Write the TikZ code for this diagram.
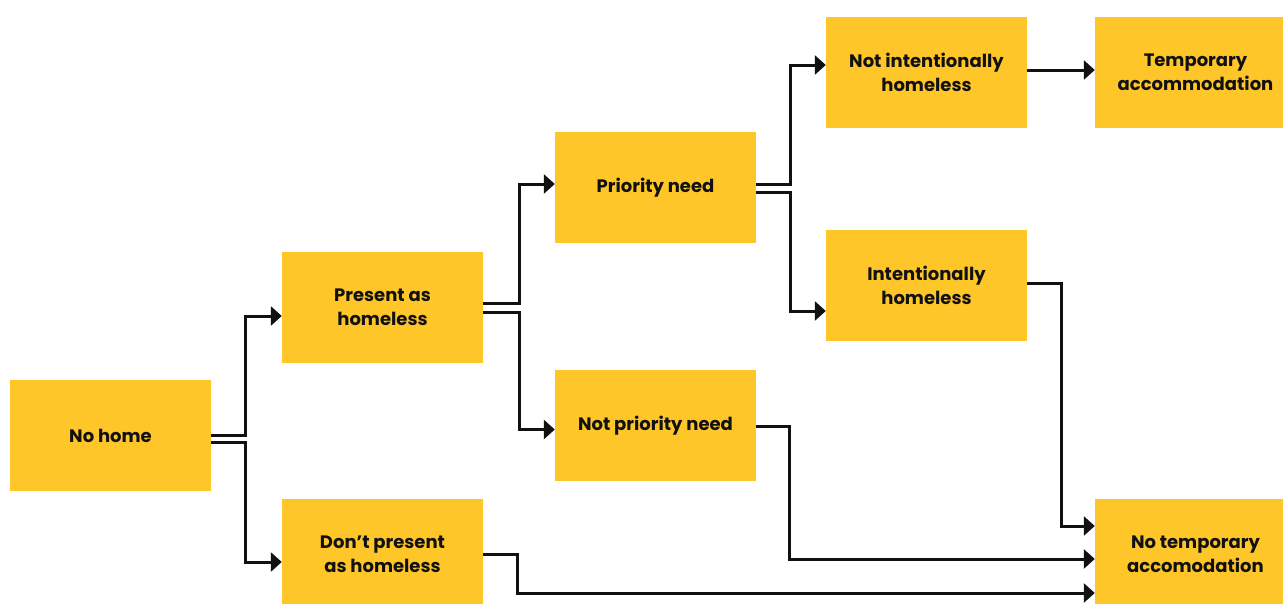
\documentclass[tikz,border=0pt]{standalone}
\usepackage{fontspec}
\setmainfont{Poppins}
\usetikzlibrary{positioning,arrows.meta,calc}
\definecolor{BoxYellow}{HTML}{FFC629}
\definecolor{InkBlack}{HTML}{111111}

\begin{document}
\begin{tikzpicture}[
  x=1pt, y=-1pt,
  state/.style = {fill=BoxYellow, minimum width=201pt, minimum height=111pt,
                  inner sep=0pt, align=center, text=InkBlack,
                  font=\fontsize{18}{24}\selectfont\bfseries},
  arr/.style   = {-{Triangle[length=11pt,width=19pt]}, line width=3pt, InkBlack}
]
  \clip (0,0) rectangle (1283,603);
  \fill[white] (0,0) rectangle (1283,603);

  \node[state] (nohome)   at (110.5,435.5)  {No home};
  \node[state] (present)  at (382.5,307.5)  {Present as\\homeless};
  \node[state] (dontpres) at (382.5,554.5)  {Don’t present\\as homeless};
  \node[state] (prio)     at (655.5,187.5)  {Priority need};
  \node[state] (notprio)  at (655.5,425.5)  {Not priority need};
  \node[state] (notint)   at (926.5,72.5)   {Not intentionally\\homeless};
  \node[state] (intent)   at (926.5,285.5)  {Intentionally\\homeless};
  \node[state] (tempacc)  at (1195.5,72.5)  {Temporary\\accommodation};
  \node[state] (notemp)   at (1195.5,554.5) {No temporary\\accomodation};

  % split from no home
  \draw[arr] (nohome.east) -- ++(34,0) |- ([yshift=-8.5pt]present.west);
  \draw[arr] ([yshift=-7pt]nohome.east) -- ++(34,0) |- ([yshift=-7.5pt]dontpres.west);

  % split from present as homeless
  \draw[arr] ([yshift=4.5pt]present.east) -- ++(36,0) |- ([yshift=3.5pt]prio.west);
  \draw[arr] ([yshift=-4.5pt]present.east) -- ++(36,0) |- ([yshift=-4pt]notprio.west);

  % split from priority need
  \draw[arr] ([yshift=3.5pt]prio.east) -- ++(34,0) |- ([yshift=7.5pt]notint.west);
  \draw[arr] ([yshift=-4.5pt]prio.east) -- ++(34,0) |- ([yshift=-25.5pt]intent.west);

  \draw[arr] ([yshift=2.5pt]notint.east) -- ([yshift=2.5pt]tempacc.west);

  % into no temporary accomodation
  \draw[arr] ([yshift=2.5pt]intent.east) -- ++(34,0) |- ([yshift=28.5pt]notemp.west);
  \draw[arr] ([yshift=-1pt]notprio.east) -- ++(33,0) |- ([yshift=-4.5pt]notemp.west);
  \draw[arr] (dontpres.east) -- ++(34,0) |- ([yshift=-38.5pt]notemp.west);
\end{tikzpicture}
\end{document}
